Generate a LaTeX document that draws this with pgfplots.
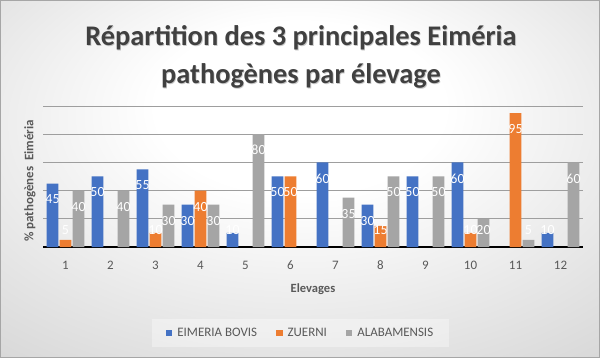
\documentclass[border=0pt]{standalone}
\usepackage{fontspec}
\setmainfont{Carlito}
\usepackage{pgfplots}
\pgfplotsset{compat=1.18}
\definecolor{cBlue}{HTML}{4472C4}
\definecolor{cOrange}{HTML}{ED7D31}
\definecolor{cGray}{HTML}{A5A5A5}
\definecolor{txt}{HTML}{595959}
\definecolor{ttl}{HTML}{404040}
\pgfdeclareradialshading{bgshade}{\pgfpoint{0bp}{12bp}}{color(0bp)=(white); color(12bp)=(white); color(48bp)=(black!20); color(70bp)=(black!28)}
\begin{document}
\begin{tikzpicture}[x=1bp,y=1bp]
\shade[shading=bgshade] (0bp,0bp) rectangle (600bp,358bp);
\draw[black!35, line width=1bp] (0.5bp,0.5bp) rectangle (599.5bp,357.5bp);
\node[font=\fontsize{28.5}{38}\selectfont\bfseries, text=black!35, align=center, opacity=0.6] at (301.8bp,300.2bp) {Répartition des 3 principales Eiméria\\pathogènes par élevage};
\node[font=\fontsize{28.5}{38}\selectfont\bfseries, text=ttl, align=center] at (301bp,301bp) {Répartition des 3 principales Eiméria\\pathogènes par élevage};
\node[font=\fontsize{12.6}{14}\selectfont\bfseries, text=txt] at (313bp,69bp) {Elevages};
\node[font=\fontsize{13}{14}\selectfont\bfseries, text=txt, rotate=90] at (30bp,177bp) {\%\ pathogènes\ \ Eiméria};
\begin{axis}[
  at={(43bp,111bp)}, anchor=south west, scale only axis,
  width=540bp, height=141bp,
  xmin=0.5, xmax=12.5, ymin=0, ymax=100,
  ybar=1.4bp, bar width=11.6bp,
  /pgf/number format/assume math mode=true,
  xtick={1,2,...,12},
  xticklabel style={font=\fontsize{13}{13}\selectfont, text=txt, anchor=center, yshift=-18bp},
  ytick={0,20,...,100}, yticklabels={},
  ymajorgrids, grid style={black!38, line width=0.8bp},
  extra y ticks={0}, extra y tick labels={},
  extra y tick style={grid style={black, line width=1.4bp}},
  major tick length=0,
  axis line style={draw=none},
  clip=false,
  visualization depends on=rawy \as \rawy,
  nodes near coords,
  nodes near coords style={font=\fontsize{14}{14}\selectfont, text=white, anchor=center,
     yshift={-1.00375*min(16,1.41*\rawy-17)}},
  legend columns=3,
  legend style={at={(0.4769,-0.61)}, anchor=center, fill=white, fill opacity=0.35, text opacity=1,
     draw=none, font=\fontsize{13}{13}\selectfont, text=txt,
     inner xsep=14bp, inner ysep=7bp,
     /tikz/every even column/.append style={column sep=17bp},
     /tikz/every odd column/.append style={column sep=3bp}},
  legend image code/.code={\fill[#1, fill opacity=1] (0bp,-3.2bp) rectangle (6.5bp,3.3bp);},
]
\addplot[fill=cBlue, draw=none] coordinates {(1,45) (2,50) (3,55) (4,30) (5,10) (6,50) (7,60) (8,30) (9,50) (10,60) (12,10)};
\addplot[fill=cOrange, draw=none] coordinates {(1,5) (3,10) (4,40) (6,50) (8,15) (10,10) (11,95)};
\addplot[fill=cGray, draw=none] coordinates {(1,40) (2,40) (3,30) (4,30) (5,80) (7,35) (8,50) (9,50) (10,20) (11,5) (12,60)};
\legend{EIMERIA BOVIS, ZUERNI, ALABAMENSIS}
\end{axis}
\end{tikzpicture}
\end{document}
